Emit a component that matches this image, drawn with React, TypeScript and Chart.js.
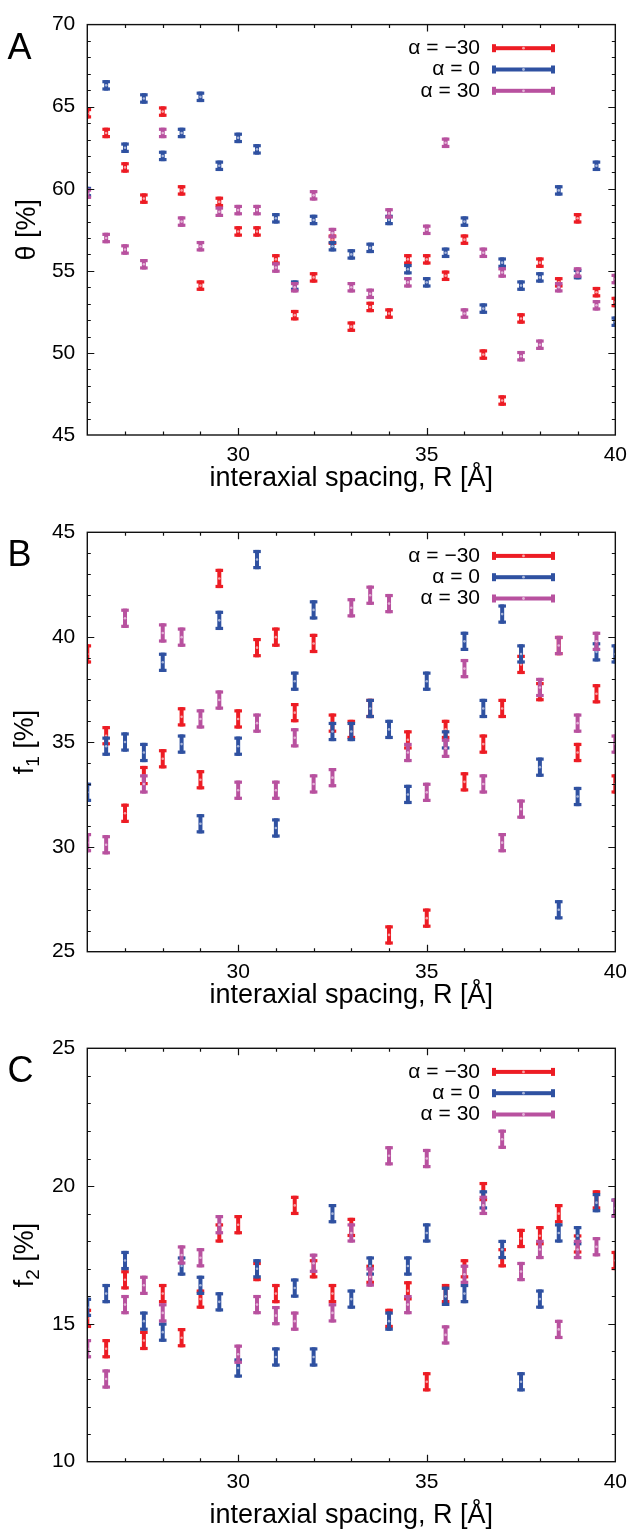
import React, { useEffect, useRef } from 'react';
import { Chart, registerables } from 'chart.js';

Chart.register(...registerables);

const FONT = '"Liberation Sans", Arial, Helvetica, sans-serif';

// interaxial spacing R [Å]
const spacingR = [26, 26.5, 27, 27.5, 28, 28.5, 29, 29.5, 30, 30.5, 31, 31.5, 32, 32.5, 33, 33.5, 34, 34.5, 35, 35.5, 36, 36.5, 37, 37.5, 38, 38.5, 39, 39.5, 40];
const xTickLabels = [30, 35, 40];

const seriesLabels = ['α = −30', 'α = 0', 'α = 30'];
const seriesColors = ['#ed1c24', '#2f51a1', '#b8519f'];
const seriesLight = ['#f7a3a6', '#a9b6da', '#e2b3d6'];

// Panel A: θ [%]
const thetaM30 = [64.6, 63.4, 61.3, 59.4, 64.7, 59.9, 54.1, 59.2, 57.4, 57.4, 55.7, 52.3, 54.6, 56.9, 51.6, 52.8, 52.4, 55.7, 55.7, 54.7, 56.9, 49.9, 47.1, 52.1, 55.5, 54.3, 58.2, 53.7, 53.1];
const theta0 = [59.8, 66.3, 62.5, 65.5, 62.0, 63.4, 65.6, 61.4, 63.1, 62.4, 58.2, 54.1, 58.1, 56.5, 56.0, 56.4, 58.1, 55.1, 54.3, 56.1, 58.0, 52.7, 55.5, 54.1, 54.6, 59.9, 54.8, 61.4, 51.9];
const thetaP30 = [59.7, 57.0, 56.3, 55.4, 63.4, 58.0, 56.5, 58.6, 58.7, 58.7, 55.2, 54.0, 59.6, 57.3, 54.0, 53.6, 58.5, 54.3, 57.5, 62.8, 52.4, 56.1, 54.9, 49.8, 50.5, 54.0, 54.9, 52.9, 54.5];
const thetaErr = 0.32;

// Panel B: f1 [%]
const f1M30 = [39.2, 35.3, 31.6, 33.4, 34.2, 36.2, 33.2, 42.8, 36.1, 39.5, 40.0, 36.4, 39.7, 35.9, 35.6, 36.6, 25.8, 35.1, 26.6, 35.6, 33.1, 34.9, 36.6, 38.7, 37.4, 39.6, 34.5, 37.3, 33.0];
const f10 = [32.6, 34.8, 35.0, 34.5, 38.8, 34.9, 31.1, 40.8, 34.8, 43.7, 30.9, 37.9, 41.3, 35.5, 35.5, 36.6, 35.6, 32.5, 37.9, 35.1, 39.8, 36.6, 41.1, 39.2, 33.8, 27.0, 32.4, 39.3, 39.2];
const f1P30 = [30.2, 30.1, 40.9, 33.0, 40.2, 40.0, 36.1, 37.0, 32.7, 35.9, 32.7, 35.2, 33.0, 33.3, 41.4, 42.0, 41.6, 34.5, 32.6, 34.7, 38.5, 33.0, 30.2, 31.8, 37.6, 39.6, 35.9, 39.8, 34.9];
const f1Err = 0.46;

// Panel C: f2 [%]
const f2M30 = [15.2, 14.1, 16.6, 14.4, 16.1, 14.5, 15.9, 18.3, 18.6, 16.9, 16.1, 19.3, 17.0, 16.1, 18.5, 16.8, 15.2, 16.2, 12.9, 16.1, 17.0, 19.8, 17.4, 18.1, 18.2, 19.0, 17.9, 19.5, 17.3];
const f20 = [15.6, 16.1, 17.3, 15.1, 14.7, 17.1, 16.4, 15.8, 13.4, 17.0, 13.8, 16.3, 13.8, 19.0, 15.9, 17.1, 15.1, 17.1, 18.3, 16.0, 16.1, 19.5, 17.7, 12.9, 15.9, 18.3, 18.2, 19.4, 19.2];
const f2P30 = [14.1, 13.0, 15.7, 16.4, 15.4, 17.5, 17.4, 18.6, 13.9, 15.7, 15.3, 15.1, 17.2, 15.4, 18.3, 16.7, 21.1, 15.7, 21.0, 14.6, 16.8, 19.3, 21.7, 16.9, 17.7, 14.8, 17.7, 17.8, 19.2];
const f2Err = 0.35;

type PanelSpec = {
  letter: string;
  yMain: string;
  ySub: string;
  yRest: string;
  yMin: number;
  yMax: number;
  series: number[][];
  err: number;
  canvasTop: number;
  canvasHeight: number;
  plotTop: number;
  plotBottom: number;
  titleMid: number;
  yTitleX: number;
};

const PLOT_LEFT = 87.3;
const PLOT_RIGHT = 618.3;
const W = 635;

const panels: PanelSpec[] = [
  { letter: 'A', yMain: 'θ', ySub: '', yRest: ' [%]', yMin: 45, yMax: 70, series: [thetaM30, theta0, thetaP30], err: thetaErr,
    canvasTop: 0, canvasHeight: 505, plotTop: 15.3, plotBottom: 435, titleMid: 479, yTitleX: 34.5 },
  { letter: 'B', yMain: 'f', ySub: '1', yRest: ' [%]', yMin: 25, yMax: 45, series: [f1M30, f10, f1P30], err: f1Err,
    canvasTop: 505, canvasHeight: 510, plotTop: 532.3, plotBottom: 951.7, titleMid: 996, yTitleX: 32.5 },
  { letter: 'C', yMain: 'f', ySub: '2', yRest: ' [%]', yMin: 10, yMax: 25, series: [f2M30, f20, f2P30], err: f2Err,
    canvasTop: 1015, canvasHeight: 525, plotTop: 1048.3, plotBottom: 1461.7, titleMid: 1516, yTitleX: 32.5 },
];

function drawIBar(ctx: CanvasRenderingContext2D, x: number, yc: number, yTop: number, yBot: number, color: string, light: string) {
  const capW = 7.6;
  const capH = 3.2;
  const stemW = 4;
  ctx.fillStyle = color;
  ctx.fillRect(x - stemW / 2, yTop, stemW, yBot - yTop);
  ctx.fillRect(x - capW / 2, yTop, capW, capH);
  ctx.fillRect(x - capW / 2, yBot - capH, capW, capH);
  ctx.fillStyle = light;
  ctx.beginPath();
  ctx.arc(x, yc, 1.3, 0, Math.PI * 2);
  ctx.fill();
}

function Panel({ spec }: { spec: PanelSpec }) {
  const ref = useRef<HTMLCanvasElement>(null);
  useEffect(() => {
    const canvas = ref.current;
    if (!canvas) return;
    const H = spec.canvasHeight;
    const topRel = spec.plotTop - spec.canvasTop;
    const bottomRel = spec.plotBottom - spec.canvasTop;
    const titlePadBottom = spec.canvasTop + H - spec.titleMid - 13.5;

    const deco = {
      id: 'deco' + spec.letter,
      afterDatasetsDraw(chart: any) {
        const { ctx, chartArea: ca, scales } = chart;
        const xs = scales.x;
        const ys = scales.y;
        ctx.save();
        ctx.beginPath();
        ctx.rect(ca.left, ca.top, ca.right - ca.left, ca.bottom - ca.top);
        ctx.clip();
        chart.data.datasets.forEach((ds: any, i: number) => {
          ds.data.forEach((p: any) => {
            const px = xs.getPixelForValue(p.x);
            const py = ys.getPixelForValue(p.y);
            const pt = ys.getPixelForValue(p.y + spec.err);
            const pb = ys.getPixelForValue(p.y - spec.err);
            drawIBar(ctx, px, py, pt, pb, seriesColors[i], seriesLight[i]);
          });
        });
        ctx.restore();
      },
      afterDraw(chart: any) {
        const { ctx, chartArea: ca, scales } = chart;
        const xs = scales.x;
        const ys = scales.y;
        ctx.save();
        // ticks (inward, mirrored)
        ctx.strokeStyle = '#111';
        ctx.lineWidth = 1.2;
        ctx.beginPath();
        for (let v = 27; v < 40; v += 1) {
          const px = Math.round(xs.getPixelForValue(v)) + 0.5;
          const len = v % 5 === 0 ? 7 : 3.5;
          ctx.moveTo(px, ca.bottom); ctx.lineTo(px, ca.bottom - len);
          ctx.moveTo(px, ca.top); ctx.lineTo(px, ca.top + len);
        }
        for (let v = spec.yMin + 1; v < spec.yMax; v += 1) {
          const py = Math.round(ys.getPixelForValue(v)) + 0.5;
          const len = v % 5 === 0 ? 7 : 3.5;
          ctx.moveTo(ca.left, py); ctx.lineTo(ca.left + len, py);
          ctx.moveTo(ca.right, py); ctx.lineTo(ca.right - len, py);
        }
        ctx.stroke();
        // frame
        ctx.lineWidth = 1.4;
        ctx.strokeRect(ca.left, ca.top, ca.right - ca.left, ca.bottom - ca.top);

        // legend
        ctx.font = `21px ${FONT}`;
        ctx.textAlign = 'right';
        ctx.textBaseline = 'middle';
        seriesLabels.forEach((lab, i) => {
          const y = ca.top + 23.6 + i * 21.3;
          ctx.fillStyle = '#000';
          ctx.fillText(lab, 480, y);
          const x0 = 492, x1 = 555;
          ctx.fillStyle = seriesColors[i];
          ctx.fillRect(x0, y - 2, x1 - x0, 4);
          ctx.fillRect(x0, y - 4, 4, 8);
          ctx.fillRect(x1 - 4, y - 4, 4, 8);
          ctx.fillStyle = seriesLight[i];
          ctx.beginPath();
          ctx.arc((x0 + x1) / 2, y, 1.4, 0, Math.PI * 2);
          ctx.fill();
        });

        // panel letter
        ctx.fillStyle = '#000';
        ctx.textAlign = 'left';
        ctx.textBaseline = 'alphabetic';
        ctx.font = `36px ${FONT}`;
        ctx.fillText(spec.letter, 7.5, ca.top + 34);

        // y-axis title (rotated)
        const mainFont = `27px ${FONT}`;
        const subFont = `19px ${FONT}`;
        ctx.font = mainFont;
        const wMain = ctx.measureText(spec.yMain).width;
        const wRest = ctx.measureText(spec.yRest).width;
        ctx.font = subFont;
        const wSub = spec.ySub ? ctx.measureText(spec.ySub).width : 0;
        const total = wMain + wSub + wRest;
        ctx.translate(spec.yTitleX, (ca.top + ca.bottom) / 2);
        ctx.rotate(-Math.PI / 2);
        let x = -total / 2;
        ctx.font = mainFont;
        ctx.fillText(spec.yMain, x, 0);
        x += wMain;
        if (spec.ySub) {
          ctx.font = subFont;
          ctx.fillText(spec.ySub, x, 6);
          x += wSub;
        }
        ctx.font = mainFont;
        ctx.fillText(spec.yRest, x, 0);
        ctx.restore();
      },
    };

    const chart = new Chart(canvas, {
      type: 'scatter',
      data: {
        datasets: spec.series.map((vals, i) => ({
          label: seriesLabels[i],
          data: spacingR.map((r, j) => ({ x: r, y: vals[j] })),
          pointRadius: 0,
          showLine: false,
          borderColor: seriesColors[i],
          backgroundColor: seriesColors[i],
        })),
      },
      options: {
        animation: false,
        responsive: false,
        devicePixelRatio: 1,
        layout: { padding: { top: topRel, right: W - PLOT_RIGHT, left: 0, bottom: 0 } },
        plugins: { legend: { display: false }, tooltip: { enabled: false } },
        scales: {
          x: {
            type: 'linear',
            min: 26,
            max: 40,
            ticks: {
              stepSize: 1,
              autoSkip: false,
              maxRotation: 0,
              padding: 8,
              color: '#000',
              font: { family: FONT, size: 21 },
              callback: (v: any) => (xTickLabels.includes(Number(v)) ? String(v) : ''),
            },
            grid: { display: false, drawTicks: false },
            border: { display: false },
            title: {
              display: true,
              text: 'interaxial spacing, R [Å]',
              color: '#000',
              font: { family: FONT, size: 27, lineHeight: 1 },
              padding: { top: 0, bottom: titlePadBottom },
            },
            afterFit: (s: any) => { s.height = H - bottomRel; },
          },
          y: {
            type: 'linear',
            min: spec.yMin,
            max: spec.yMax,
            ticks: {
              stepSize: 5,
              autoSkip: false,
              padding: 12,
              color: '#000',
              font: { family: FONT, size: 21 },
            },
            grid: { display: false, drawTicks: false },
            border: { display: false },
            afterFit: (s: any) => { s.width = PLOT_LEFT; },
          },
        },
      } as any,
      plugins: [deco],
    });
    return () => chart.destroy();
  }, [spec]);
  return (
    <canvas
      ref={ref}
      width={W}
      height={spec.canvasHeight}
      style={{ position: 'absolute', left: 0, top: spec.canvasTop, width: W, height: spec.canvasHeight, display: 'block' }}
    />
  );
}

export default function App() {
  return (
    <div style={{ position: 'absolute', left: 0, top: 0, width: W, height: 1540, background: '#fff' }}>
      {panels.map((p) => (
        <Panel key={p.letter} spec={p} />
      ))}
    </div>
  );
}
